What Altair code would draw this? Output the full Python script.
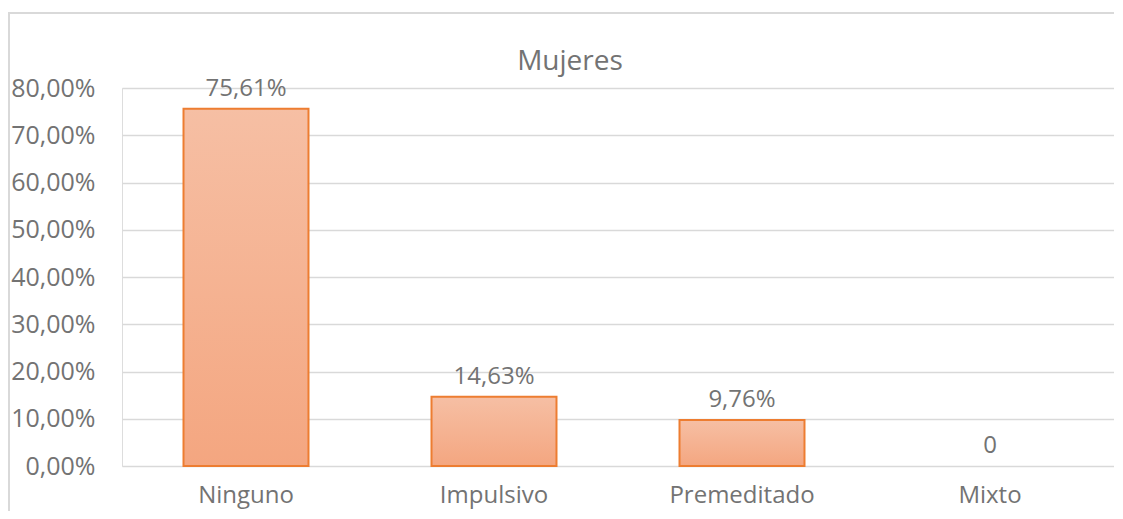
import altair as alt
import pandas as pd

categories = ["Ninguno", "Impulsivo", "Premeditado", "Mixto"]
values = [75.61, 14.63, 9.76, 0.0]
labels = ["75,61%", "14,63%", "9,76%", "0"]
title_text = ["Mujeres"]

df = pd.DataFrame({"cat": categories, "val": values, "lab": labels})
df_title = pd.DataFrame({"t": title_text})

FONT = "Open Sans"
GREY = "#737373"
W, H = 992, 378

x_enc = alt.X("cat:N", sort=categories,
              scale=alt.Scale(paddingInner=0.496, paddingOuter=0.248),
              axis=alt.Axis(title=None, labelAngle=0, ticks=False, domain=False,
                            labelPadding=17, labelFontSize=24, labelColor=GREY,
                            labelFont=FONT, grid=False))
y_enc = alt.Y("val:Q", scale=alt.Scale(domain=[0, 80], nice=False),
              axis=alt.Axis(title=None, values=[0, 10, 20, 30, 40, 50, 60, 70, 80],
                            labelExpr="replace(format(datum.value, '.2f'), '.', ',') + '%'",
                            ticks=False, domain=False, labelPadding=27,
                            labelFontSize=25, labelColor=GREY, labelFont=FONT,
                            grid=True, gridColor="#d9d9d9", gridWidth=1.5))

bars = alt.Chart(df).transform_filter("datum.val > 0").mark_bar(
    stroke="#ed7d31", strokeWidth=2,
    color=alt.Gradient(gradient="linear",
                       stops=[alt.GradientStop(color="#f6bfa4", offset=0),
                              alt.GradientStop(color="#f4a680", offset=1)],
                       x1=0, x2=0, y1=0, y2=1),
).encode(x=x_enc, y=y_enc)

text = alt.Chart(df).mark_text(dy=-20, fontSize=24, font=FONT, color=GREY).encode(
    x=alt.X("cat:N", sort=categories), y="val:Q", text="lab:N")

title = alt.Chart(df_title).mark_text(fontSize=28, font=FONT, color=GREY,
                                      baseline="middle").encode(
    x=alt.value(448), y=alt.value(-26), text="t:N")

frame_left = alt.Chart(df).mark_rule(color="#d9d9d9", strokeWidth=2).encode(
    x=alt.value(-113), y=alt.value(-76), y2=alt.value(H + 60))
frame_top = alt.Chart(df).mark_rule(color="#d9d9d9", strokeWidth=2).encode(
    x=alt.value(-114), x2=alt.value(W + 40), y=alt.value(-75))

chart = alt.layer(bars, text, title, frame_left, frame_top).properties(
    width=W, height=H,
    autosize=alt.AutoSizeParams(type="none"),
    padding={"left": 114, "top": 80, "right": 0, "bottom": 45},
).configure_view(stroke=None).configure(background="white")

chart.save("out.html", embed_options={"renderer": "svg", "actions": False})
